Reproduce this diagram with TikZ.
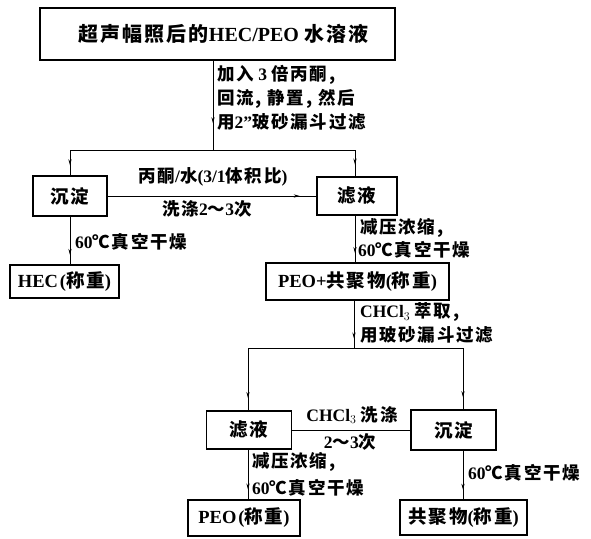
\documentclass[tikz,border=0pt]{standalone}
\usepackage{fontspec}
\setmainfont{Liberation Serif}
\newfontfamily\cjk[LetterSpace=10]{Noto Sans CJK SC}
\usetikzlibrary{arrows.meta,decorations.markings}
\newcommand\zh[1]{{\cjk #1}}
\begin{document}
\begin{tikzpicture}[x=1pt,y=-1pt,
  box/.style={draw,line width=1.1pt,inner sep=0pt,font=\fontsize{18.5}{20}\selectfont\bfseries},
  conn/.style={line width=0.8pt},
  arr/.style={conn,postaction={decorate},decoration={markings,mark=at position #1 with {\arrow{Stealth[length=6pt,width=3.2pt]}}}},
  arr/.default=0.8,
  lab/.style={font=\fontsize{17.5}{19}\selectfont\bfseries,inner sep=0pt},
]
\fill[white] (0,0) rectangle (591,538);
\useasboundingbox (0,0) rectangle (591,538);

% boxes
\node[box,line width=1.5pt,minimum width=355pt,minimum height=52pt,font=\fontsize{20}{22}\selectfont\bfseries] (top) at (217.5,34) {\hspace*{12pt}\zh{超声幅照后的}HEC/PEO \zh{水溶液}};
\node[box,minimum width=74pt,minimum height=40pt] (sd1) at (70,196) {\zh{沉淀}};
\node[box,minimum width=80pt,minimum height=38pt] (lv1) at (357,196) {\zh{滤液}};
\node[box,minimum width=109pt,minimum height=33pt] (hec) at (64.5,281.5) {HEC\kern2pt(\zh{称重})};
\node[box,minimum width=183pt,minimum height=37pt] (pc) at (357.5,281.5) {PEO+\zh{共聚物}(\zh{称重})};
\node[box,minimum width=85pt,minimum height=38pt] (lv2) at (249,430) {\zh{滤液}};
\node[box,minimum width=85pt,minimum height=40pt] (sd2) at (453.5,430) {\zh{沉淀}};
\node[box,minimum width=112pt,minimum height=36pt] (peo) at (244,518) {PEO\kern2pt(\zh{称重})};
\node[box,minimum width=127pt,minimum height=35pt] (gjw) at (463.5,517.5) {\zh{共聚物}(\zh{称重})};

% split points
\coordinate (s1) at (213,150);
\coordinate (s1l) at (70,150);
\coordinate (s1r) at (355,150);
\coordinate (s2) at (354,348);
\coordinate (s2l) at (248,348);
\coordinate (s2r) at (463,348);

% connectors
\draw[arr=0.7] (top.south -| s1) -- (s1);
\draw[conn] (s1l) -- (s1r);
\draw[arr=0.6] (s1l) -- (sd1.north);
\draw[arr=0.55] (s1r) -- (s1r |- lv1.north);
\draw[arr=0.92] (sd1.east) -- (lv1.west);
\draw[arr=0.8] (sd1.south) -- (sd1.south |- hec.north);
\draw[arr=0.8] (lv1.south -| s1r) -- (s1r |- pc.north);
\draw[arr=0.8] (pc.south -| s2) -- (s2);
\draw[conn] (s2l) -- (s2r);
\draw[arr=0.8] (s2l) -- (s2l |- lv2.north);
\draw[arr=0.8] (s2r) -- (s2r |- sd2.north);
\draw[conn] (lv2.east) -- (sd2.west);
\draw[arr=0.8] (lv2.south -| s2l) -- (s2l |- peo.north);
\draw[arr=0.8] (s2r |- sd2.south) -- (s2r |- gjw.north);

% labels
\node[lab,anchor=west] (l1) at (217,75) {\zh{加入} 3 \zh{倍丙酮,}};
\node[lab,anchor=west] (l2) at (217,99) {\zh{回流, 静置, 然后}};
\node[lab,anchor=west] (l3) at (217,122) {\zh{用}2\char34\zh{玻砂漏斗过滤}};
\node[lab] (l4) at (213,177) {\zh{丙酮}/\zh{水}(3/1\zh{体积比})};
\node[lab] (l5) at (207,209) {\zh{洗涤}2\zh{～}3\zh{次}};
\node[lab,anchor=west] (l6) at (75,242) {60\zh{℃真空干燥}};
\node[lab,anchor=west] (l7) at (360,228) {\zh{减压浓缩,}};
\node[lab,anchor=west] (l8) at (358,250) {60\zh{℃真空干燥}};
\node[lab,anchor=west] (l9) at (360,312) {CHCl$_3$ \zh{萃取,}};
\node[lab,anchor=west] (l10) at (360,335) {\zh{用玻砂漏斗过滤}};
\node[lab] (l11) at (352,415) {CHCl$_3$ \zh{洗涤}};
\node[lab] (l12) at (350,442) {2\zh{～}3\zh{次}};
\node[lab,anchor=west] (l13) at (252,462) {\zh{减压浓缩,}};
\node[lab,anchor=west] (l14) at (252,488) {60\zh{℃真空干燥}};
\node[lab,anchor=west] (l15) at (468,473) {60\zh{℃真空干燥}};
\end{tikzpicture}
\end{document}
